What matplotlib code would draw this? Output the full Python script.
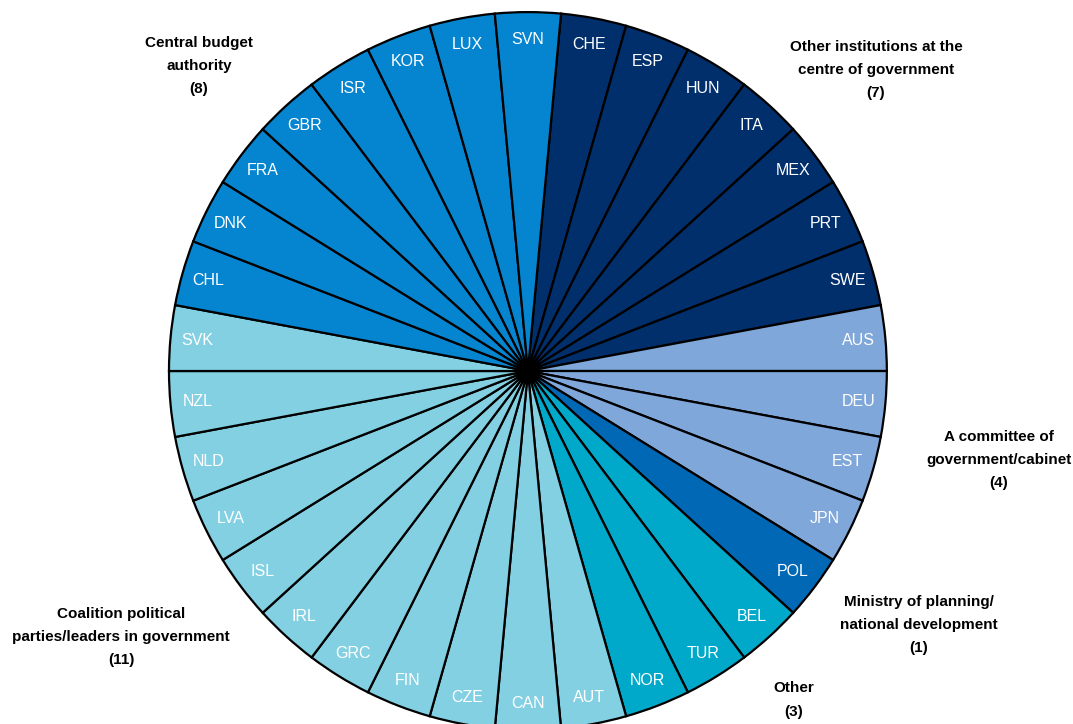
import numpy as np
import matplotlib.pyplot as plt

plt.rcParams['font.family'] = ['Liberation Sans', 'DejaVu Sans']

# countries grouped by who resolves disagreements, in clockwise order from the top
other_inst = ["CHE", "ESP", "HUN", "ITA", "MEX", "PRT", "SWE"]
committee = ["AUS", "DEU", "EST", "JPN"]
ministry = ["POL"]
other = ["BEL", "TUR", "NOR"]
coalition = ["AUT", "CAN", "CZE", "FIN", "GRC", "IRL", "ISL", "LVA", "NLD", "NZL", "SVK"]
central_budget = ["CHL", "DNK", "FRA", "GBR", "ISR", "KOR", "LUX", "SVN"]

groups = [
    (other_inst, "#002F6C"),
    (committee, "#7FA7D9"),
    (ministry, "#0068B5"),
    (other, "#00A9C9"),
    (coalition, "#83D0E3"),
    (central_budget, "#0584CF"),
]

labels = []
colors = []
for countries, col in groups:
    labels += countries
    colors += [col] * len(countries)
sizes = [1] * len(labels)

fig = plt.figure(figsize=(10.73, 7.24), dpi=100)
ax = fig.add_axes([0.1575, -0.0083, 0.669, 0.9917])

n = len(labels)
wedges, _ = ax.pie(sizes, colors=colors, startangle=90 - 180 / n, counterclock=False,
                   wedgeprops=dict(edgecolor="black", linewidth=1.6))
ax.set_xlim(-1, 1)
ax.set_ylim(-1, 1)
ax.set_aspect("equal")
ax.axis("off")

for w, lab in zip(wedges, labels):
    ang = np.deg2rad((w.theta1 + w.theta2) / 2)
    ax.text(0.925 * np.cos(ang), 0.925 * np.sin(ang), lab, color="white",
            fontsize=11.5, ha="center", va="center")

# group captions (pixel positions of the middle line)
captions = {
    "Central budget\nauthority\n(8)": (199, 66),
    "Other institutions at the\ncentre of government\n(7)": (876, 70),
    "A committee of\ngovernment/cabinet\n(4)": (999, 460),
    "Ministry of planning/\nnational development\n(1)": (919, 625),
    "Other\n(3)": (794, 700),
    "Coalition political\nparties/leaders in government\n(11)": (121, 637),
}
for txt, (px, py) in captions.items():
    fig.text(px / 1073, 1 - py / 724, txt, ha="center", va="center",
             fontsize=11, fontweight="bold", linespacing=1.85)

fig.savefig("out.png", dpi=100)
